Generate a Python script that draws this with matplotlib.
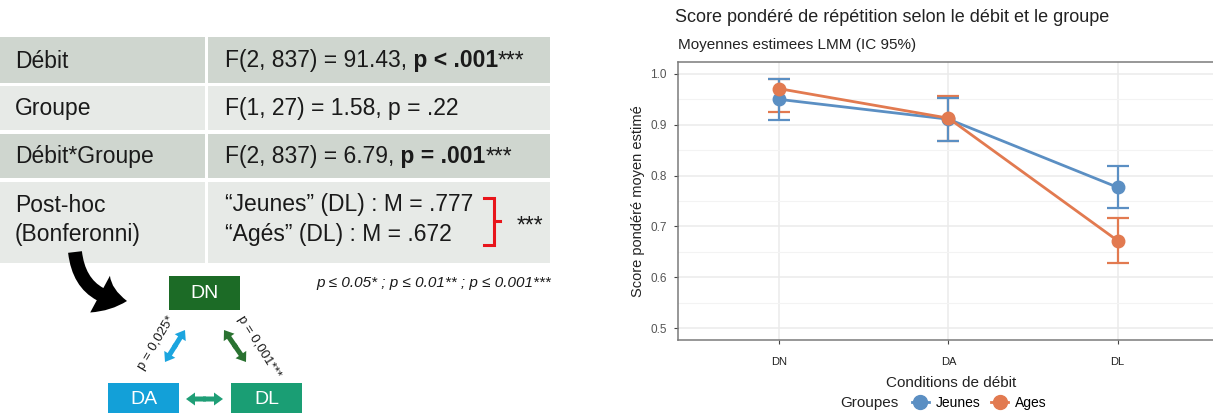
import matplotlib
matplotlib.use("Agg")
import matplotlib.pyplot as plt
from matplotlib.patches import Rectangle, FancyArrowPatch, FancyArrow
from matplotlib.lines import Line2D

plt.rcParams['font.family'] = ['Liberation Sans', 'DejaVu Sans']

# ANOVA table (LMM)
effects = ["Débit", "Groupe", "Débit*Groupe"]
stat_plain = ["F(2, 837) = 91.43,", "F(1, 27) = 1.58, p = .22", "F(2, 837) = 6.79,"]
stat_bold = [" p < .001", "", " p = .001"]
stat_stars = ["***", "", "***"]

# estimated marginal means and 95% CI
conditions = ["DN", "DA", "DL"]
jeunes_mean = [0.950, 0.911, 0.777]
jeunes_low = [0.910, 0.869, 0.737]
jeunes_high = [0.991, 0.953, 0.818]
ages_mean = [0.971, 0.913, 0.672]
ages_low = [0.926, 0.868, 0.627]
ages_high = [0.991, 0.957, 0.717]

# pairwise comparisons between conditions
pair_p = {"DN-DA": "p = 0,025*", "DN-DL": "p = 0,001***"}

W, H = 1213, 413
fig = plt.figure(figsize=(W / 100, H / 100), dpi=100)
renderer = fig.canvas.get_renderer()

# ---------- left panel: table + diagram, drawn in pixel units ----------
bg = fig.add_axes([0, 0, 1, 1])
bg.set_xlim(0, W)
bg.set_ylim(H, 0)
bg.axis('off')

row_top = [37, 86, 134, 182]
row_bot = [83, 130, 178, 263]
row_col = ['#cfd6cf', '#e7eae7', '#cfd6cf', '#e7eae7']
for top, bot, c in zip(row_top, row_bot, row_col):
    bg.add_patch(Rectangle((0, top), 205, bot - top, color=c, lw=0))
    bg.add_patch(Rectangle((208, top), 342, bot - top, color=c, lw=0))

fs_tab = 16.5
txt_col = '#1a1a1a'


def text_runs(x, y, parts):
    # consecutive pieces of text, each with its own weight
    for s, w in parts:
        if not s:
            continue
        t = bg.text(x, y, s, fontsize=fs_tab, fontweight=w, va='center', color=txt_col)
        x += t.get_window_extent(renderer).width


for i, name in enumerate(effects):
    yc = (row_top[i] + row_bot[i]) / 2 + 1
    bg.text(15, yc, name, fontsize=fs_tab, va='center', color=txt_col)
    text_runs(225, yc, [(stat_plain[i], 'normal'), (stat_bold[i], 'bold'),
                        (stat_stars[i], 'normal')])

bg.text(15, 205, "Post-hoc", fontsize=fs_tab, va='center', color=txt_col)
bg.text(15, 234, "(Bonferonni)", fontsize=fs_tab, va='center', color=txt_col)
bg.text(225, 205, f"“Jeunes” (DL) : M = {jeunes_mean[2]:.3f}".replace("0.", "."),
        fontsize=fs_tab, va='center', color=txt_col)
bg.text(225, 234, f"“Agés” (DL) : M = {ages_mean[2]:.3f}".replace("0.", "."),
        fontsize=fs_tab, va='center', color=txt_col)

# red bracket
bg.plot([484, 494, 494, 484], [198, 198, 245, 245], color='#e8151b', lw=2.2,
        solid_joinstyle='miter')
bg.plot([494, 500], [221, 221], color='#e8151b', lw=2.2)
bg.text(517, 226, "***", fontsize=fs_tab, va='center', color=txt_col)

bg.text(316, 283, "p ≤ 0.05* ; p ≤ 0.01** ; p ≤ 0.001***", fontsize=11,
        style='italic', va='center', color=txt_col)

# curved arrow toward the diagram
bg.add_patch(FancyArrowPatch((75, 252), (127, 301), connectionstyle="arc3,rad=0.42",
                             arrowstyle="simple,head_length=1.0,head_width=1.5,tail_width=0.5",
                             mutation_scale=20, color='black', lw=0, shrinkA=0, shrinkB=0))

# condition boxes
boxes = {"DN": (169, 276, 34, '#1c6b26'), "DA": (108, 383, 40, '#13a0d8'),
         "DL": (231, 383, 40, '#1a9e74')}
for lab, (bx, by, bh, c) in boxes.items():
    bg.add_patch(Rectangle((bx, by), 71, bh, color=c, lw=0))
    bg.text(bx + 35.5, by + 17, lab, fontsize=14, color='white', ha='center', va='center')


def double_arrow(p1, p2, c):
    # two heads grown from the middle of the segment
    mx, my = (p1[0] + p2[0]) / 2, (p1[1] + p2[1]) / 2
    for ex, ey in (p1, p2):
        dx, dy = ex - mx, ey - my
        bg.add_patch(FancyArrow(mx - 0.08 * dx, my - 0.08 * dy, 1.08 * dx, 1.08 * dy,
                                width=5, head_width=13, head_length=9,
                                length_includes_head=True, color=c, lw=0))


double_arrow((165, 362), (185, 330), '#1ba5df')
double_arrow((224, 330), (246, 362), '#2a7231')
double_arrow((186, 399), (223, 399), '#1f9e76')
bg.text(156, 343, pair_p["DN-DA"], fontsize=9.5, rotation=59, ha='center', va='center',
        rotation_mode='anchor', color=txt_col)
bg.text(259, 347, pair_p["DN-DL"], fontsize=9.5, rotation=-58, ha='center', va='center',
        rotation_mode='anchor', color=txt_col)

# ---------- right panel: interaction plot ----------
ax = fig.add_axes([678 / W, 1 - 340 / H, (1225 - 678) / W, (340 - 62) / H])
x = [1, 2, 3]
blue, orange = '#5b8fc3', '#e27a50'

ax.errorbar(x, ages_mean, yerr=[[m - l for m, l in zip(ages_mean, ages_low)],
                                [h - m for m, h in zip(ages_mean, ages_high)]],
            fmt='none', ecolor=orange, elinewidth=1.6, capsize=8, capthick=1.6, zorder=3)
ax.errorbar(x, jeunes_mean, yerr=[[m - l for m, l in zip(jeunes_mean, jeunes_low)],
                                  [h - m for m, h in zip(jeunes_mean, jeunes_high)]],
            fmt='none', ecolor=blue, elinewidth=1.6, capsize=8, capthick=1.6, zorder=3)
ax.plot(x, jeunes_mean, color=blue, lw=2, marker='o', ms=9, zorder=4)
ax.plot(x, ages_mean, color=orange, lw=2, marker='o', ms=9, zorder=4)

# 0.4..3.6 spread over the axes, but the axes box runs a bit past the figure edge
ax.set_xlim(0.4, 0.4 + 3.2 * (1225 - 678) / (1219 - 678))
ax.set_ylim(0.4764, 1.0236)
ax.set_xticks(x)
ax.set_xticklabels(conditions, fontsize=8, color='#222222')
yt = [0.5, 0.6, 0.7, 0.8, 0.9, 1.0]
ax.set_yticks(yt)
ax.set_yticklabels([f"{v:.1f}" for v in yt], fontsize=8.5, color='#555555')
ax.set_yticks([0.55, 0.65, 0.75, 0.85, 0.95], minor=True)
ax.grid(True, which='major', color='#ebebeb', lw=1.1)
ax.grid(True, which='minor', axis='y', color='#f3f3f3', lw=0.8)
ax.set_axisbelow(True)
ax.tick_params(which='major', length=3, color='#444444', pad=5)
ax.tick_params(which='minor', length=0)
ax.tick_params(axis='x', pad=9)
for sp in ax.spines.values():
    sp.set_color('#7a7a7a')
    sp.set_linewidth(1.1)

ax.set_ylabel("Score pondéré moyen estimé", fontsize=10.5, color='#222222', labelpad=4)
ax.set_xlabel("Conditions de débit", fontsize=11, color='#222222', labelpad=7)

fig.text(675 / W, 1 - 18 / H, "Score pondéré de répétition selon le débit et le groupe",
         fontsize=13, color='#222222', va='center')
fig.text(678 / W, 1 - 45 / H, "Moyennes estimees LMM (IC 95%)", fontsize=11,
         color='#222222', va='center')

# legend row at the bottom edge
fig.text(840 / W, 1 - 403 / H, "Groupes", fontsize=11, color='#222222', va='center')
handles = [Line2D([], [], color=blue, lw=2, marker='o', ms=10),
           Line2D([], [], color=orange, lw=2, marker='o', ms=10)]
fig.legend(handles, ["Jeunes", "Ages"], loc='center left', ncol=2, frameon=False,
           bbox_to_anchor=(912 / W, 1 - 403 / H), fontsize=10, handlelength=1.2,
           handletextpad=0.5, columnspacing=0.8, borderpad=0, borderaxespad=0)

fig.savefig("out.png", dpi=100)
